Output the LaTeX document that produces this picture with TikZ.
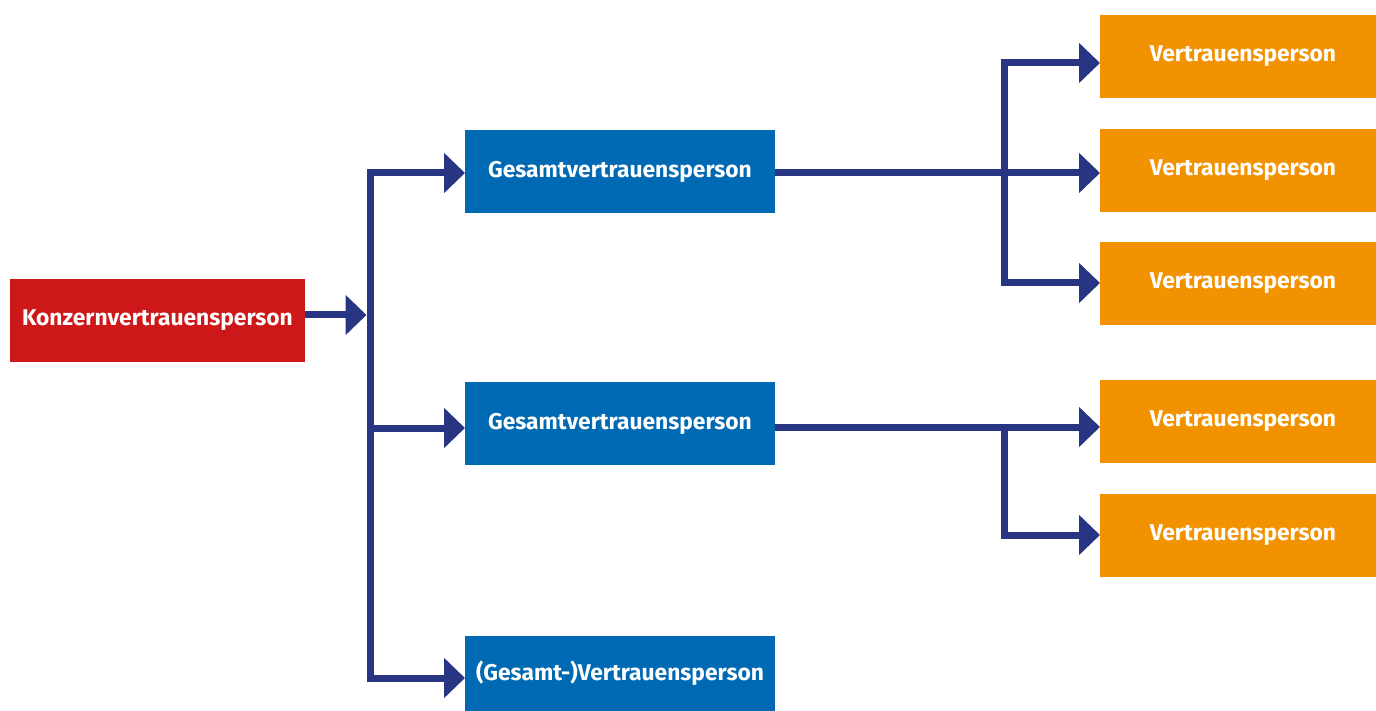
\documentclass[tikz,border=0pt]{standalone}
\usepackage{fontspec}
\setmainfont{Fira Sans}
\usetikzlibrary{arrows.meta}
\definecolor{kred}{HTML}{CD1719}
\definecolor{gblue}{HTML}{0069B4}
\definecolor{vorange}{HTML}{F39200}
\definecolor{navy}{HTML}{283583}
\tikzset{
  box/.style={anchor=north west, inner sep=0pt, outer sep=0pt, text=white,
    font=\fontsize{22.8}{26}\selectfont\bfseries, align=center},
  kbox/.style={box, fill=kred, minimum width=295pt, minimum height=83pt},
  gbox/.style={box, fill=gblue, minimum width=310pt, minimum height=83pt},
  vbox/.style={box, fill=vorange, minimum width=276pt, minimum height=83pt},
  link/.style={draw=navy, line width=7pt, line join=miter},
  arr/.style={link, -{Triangle[length=21pt,width=39pt]}},
}
\begin{document}
\begin{tikzpicture}[x=1pt,y=-1pt]
\useasboundingbox (0,0) rectangle (1376,711);
% nodes
\node[kbox] (k) at (10,279) {Konzernvertrauensperson};
\node[gbox] (g1) at (465,130) {Gesamtvertrauensperson};
\node[gbox] (g2) at (465,382) {Gesamtvertrauensperson};
\node[gbox, minimum height=75pt] (g3) at (465,636) {(Gesamt-)Vertrauensperson};
\node[vbox] (v1) at (1100,15) {\hspace*{10pt}Vertrauensperson};
\node[vbox] (v2) at (1100,129) {\hspace*{10pt}Vertrauensperson};
\node[vbox] (v3) at (1100,242) {\hspace*{10pt}Vertrauensperson};
\node[vbox] (v4) at (1100,380) {\hspace*{10pt}Vertrauensperson};
\node[vbox] (v5) at (1100,494) {\hspace*{10pt}Vertrauensperson};
% trunk coordinates
\coordinate (tk) at (370.5,315);
\coordinate (t1) at (370.5,173);
\coordinate (t2) at (370.5,428);
\coordinate (t3) at (370.5,678);
\coordinate (r1) at (1004.5,63);
\coordinate (r2) at (1004.5,173);
\coordinate (r3) at (1004.5,283);
\coordinate (s1) at (1004.5,427);
\coordinate (s2) at (1004.5,535);
% left trunk
\draw[arr, shorten >=4pt] (k.east |- tk) -- (tk);
\draw[arr] (tk) |- (t1 -| g1.west);
\draw[arr] (tk) |- (t3 -| g3.west);
\draw[arr] (t2) -- (t2 -| g2.west);
% right group 1
\draw[arr] (g1.east |- r2) -- (r2 -| v2.west);
\draw[arr] (r2) |- (r1 -| v1.west);
\draw[arr] (r2) |- (r3 -| v3.west);
% right group 2
\draw[arr] (g2.east |- s1) -- (s1 -| v4.west);
\draw[arr] (s1) |- (s2 -| v5.west);
\end{tikzpicture}
\end{document}
